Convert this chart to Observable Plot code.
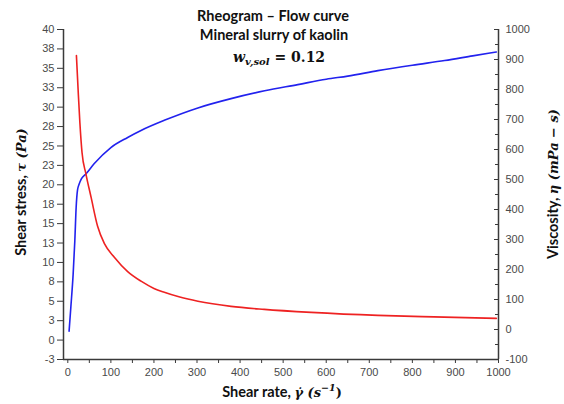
<!DOCTYPE html>
<html>
<head>
<meta charset="utf-8">
<script src="https://cdn.jsdelivr.net/npm/d3@7"></script>
<script src="https://cdn.jsdelivr.net/npm/@observablehq/plot@0.6"></script>
<style>
  body { margin: 0; background: #fff; }
  #chart { position: relative; width: 564px; height: 404px; background: #fff; }
  #chart svg { position: absolute; left: 0; top: 0; overflow: visible; }
</style>
</head>
<body>
<div id="chart"></div>
<script>
// Shear stress curve (left axis), Pa vs shear rate 1/s
const stressRate = [3, 7, 12.4, 16.3, 19.4, 22.5, 26.4, 31.8, 42, 61, 100, 139, 170, 224, 302, 379, 457, 534, 600, 650, 720, 800, 875, 940, 995];
const stressPa   = [1.15, 4.2, 8.5, 12.8, 17.1, 19.3, 20.1, 20.8, 21.4, 22.7, 24.8, 26.1, 27.0, 28.3, 29.9, 31.1, 32.1, 32.9, 33.6, 34.0, 34.7, 35.4, 36.0, 36.6, 37.1];

// Apparent viscosity curve (right axis), mPa·s vs shear rate 1/s
const viscRate = [20, 24, 28, 33, 42, 54, 69, 85, 108, 139, 170, 200, 224, 260, 302, 379, 456, 565, 720, 850, 995];
const viscMPas = [913, 797, 690, 590, 519, 441, 345, 286, 241, 193, 161, 137, 124, 108, 94, 77, 67, 57, 47, 42, 37];

// Axis ticks
const stressTicks = d3.range(-2.5, 40.01, 2.5);
const viscTicks   = d3.range(-100, 1001, 100);
const viscMinor   = d3.range(-50, 1000, 100);
const rateTicks   = d3.range(0, 1001, 100);
const rateMinor   = d3.range(50, 1000, 100);

const xDomain = [-10, 1000];
const stressDomain = [-2.5, 40];
const viscDomain = [-100, 1000];

const axisColor = "#3a3a3a";
const tickFont = "'Liberation Sans', Arial, sans-serif";
const labelFont = "Lato, 'Open Sans', sans-serif";
const mathFont = "'DejaVu Serif', serif";

// labels like 2.5 -> 3, -2.5 -> -3
const roundHalfAway = d => String(Math.sign(d) * Math.round(Math.abs(d)));
const plain = d => String(d);

const common = {
  width: 564,
  height: 404,
  marginTop: 29,
  marginRight: 66,
  marginBottom: 45,
  marginLeft: 63,
  style: { fontFamily: tickFont, fontSize: "11px", background: "transparent", color: "#4a4a4a" }
};

const stressData = stressRate.map((r, i) => ({ rate: r, value: stressPa[i] }));
const viscData = viscRate.map((r, i) => ({ rate: r, value: viscMPas[i] }));

const stressPlot = Plot.plot({
  ...common,
  x: { domain: xDomain },
  y: { domain: stressDomain },
  marks: [
    Plot.axisY(stressTicks, { tickFormat: roundHalfAway, tickSize: 6, tickPadding: 3, label: null, stroke: axisColor }),
    Plot.axisX(rateTicks, { tickFormat: plain, tickSize: 4, tickPadding: 5, label: null, stroke: axisColor }),
    Plot.axisX(rateMinor, { tickSize: 4, tickFormat: () => "", label: null, stroke: axisColor }),
    Plot.ruleX([xDomain[0]], { stroke: axisColor, strokeWidth: 1.5 }),
    Plot.ruleY([stressDomain[0]], { stroke: axisColor, strokeWidth: 1.5 }),
    Plot.line(stressData, { x: "rate", y: "value", stroke: "#2222ee", strokeWidth: 1.6, curve: "monotone-x" })
  ]
});

const viscPlot = Plot.plot({
  ...common,
  x: { domain: xDomain, axis: null },
  y: { domain: viscDomain },
  marks: [
    Plot.axisY(viscTicks, { anchor: "right", tickFormat: plain, tickSize: -5, tickPadding: 12, label: null, stroke: axisColor }),
    Plot.axisY(viscMinor, { anchor: "right", tickSize: -4, tickFormat: () => "", label: null, stroke: axisColor }),
    Plot.ruleX([xDomain[1]], { stroke: axisColor, strokeWidth: 1.5 }),
    Plot.line(viscData, { x: "rate", y: "value", stroke: "#ee2222", strokeWidth: 1.6, curve: "monotone-x" })
  ]
});

const chart = document.getElementById("chart");
chart.append(stressPlot, viscPlot);

// Titles and axis titles
const svg = d3.select(viscPlot);

function titleLine(text, x, y) {
  svg.append("text").attr("x", x).attr("y", y).attr("text-anchor", "middle")
    .attr("font-family", labelFont).attr("font-weight", "bold").attr("font-size", 14.5)
    .attr("fill", "#111").text(text);
}
titleLine("Rheogram \u2013 Flow curve", 273, 21);
titleLine("Mineral slurry of kaolin", 274, 40);

const math = svg.append("text").attr("x", 279).attr("y", 62).attr("text-anchor", "middle")
  .attr("font-family", mathFont).attr("font-weight", "bold").attr("font-size", 14).attr("fill", "#111");
math.append("tspan").attr("font-style", "italic").text("w");
math.append("tspan").attr("font-style", "italic").attr("font-size", 10).attr("dy", 3).text("v,sol");
math.append("tspan").attr("dy", -3).text(" = 0.12");

// x axis title
const xt = svg.append("text").attr("x", 282).attr("y", 397).attr("text-anchor", "middle")
  .attr("font-family", labelFont).attr("font-weight", "bold").attr("font-size", 14.5).attr("fill", "#111");
xt.append("tspan").text("Shear rate, ");
xt.append("tspan").attr("font-family", mathFont).attr("font-style", "italic").attr("font-size", 13).text("\u03B3\u0307 (s");
xt.append("tspan").attr("font-family", mathFont).attr("font-style", "italic").attr("font-size", 9.5).attr("dy", -6).text("\u22121");
xt.append("tspan").attr("font-family", mathFont).attr("font-size", 13).attr("dy", 6).text(")");

// left axis title
const lt = svg.append("text").attr("transform", "translate(26,192) rotate(-90)").attr("text-anchor", "middle")
  .attr("font-family", labelFont).attr("font-weight", "bold").attr("font-size", 14.5).attr("fill", "#111");
lt.append("tspan").text("Shear stress, ");
lt.append("tspan").attr("font-family", mathFont).attr("font-style", "italic").attr("font-size", 13).text("\u03C4 (Pa)");

// right axis title
const rt = svg.append("text").attr("transform", "translate(558,184) rotate(-90)").attr("text-anchor", "middle")
  .attr("font-family", labelFont).attr("font-weight", "bold").attr("font-size", 14.5).attr("fill", "#111");
rt.append("tspan").text("Viscosity, ");
rt.append("tspan").attr("font-family", mathFont).attr("font-style", "italic").attr("font-size", 13).text("\u03B7 (mPa \u2212 s)");
</script>
</body>
</html>
